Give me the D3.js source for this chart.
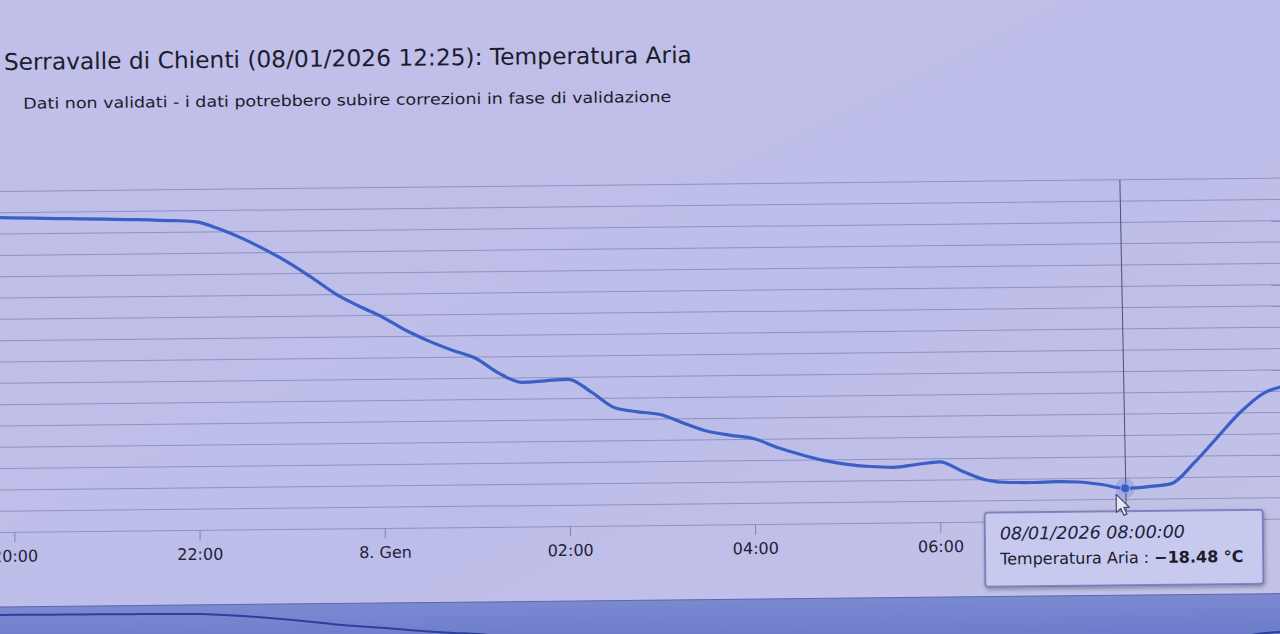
<!DOCTYPE html>
<html><head><meta charset="utf-8">
<script src="https://cdn.jsdelivr.net/npm/d3@7"></script>
<style>html,body{margin:0;padding:0;overflow:hidden;background:#bdbee6}</style>
</head><body>
<svg id="c" width="1280" height="634"></svg>
<script>
// ---------- data ----------
const timeLabels = [
 "2026-01-07 19:45","2026-01-07 20:00","2026-01-07 20:15","2026-01-07 20:30","2026-01-07 20:45",
 "2026-01-07 21:00","2026-01-07 21:15","2026-01-07 21:30","2026-01-07 21:45",
 "2026-01-07 22:00","2026-01-07 22:15","2026-01-07 22:30","2026-01-07 22:45",
 "2026-01-07 23:00","2026-01-07 23:15","2026-01-07 23:30","2026-01-07 23:45",
 "2026-01-08 00:00","2026-01-08 00:15","2026-01-08 00:30","2026-01-08 00:45",
 "2026-01-08 01:00","2026-01-08 01:15","2026-01-08 01:30","2026-01-08 01:45",
 "2026-01-08 02:00","2026-01-08 02:15","2026-01-08 02:30","2026-01-08 02:45",
 "2026-01-08 03:00","2026-01-08 03:15","2026-01-08 03:30","2026-01-08 03:45",
 "2026-01-08 04:00","2026-01-08 04:15","2026-01-08 04:30","2026-01-08 04:45",
 "2026-01-08 05:00","2026-01-08 05:15","2026-01-08 05:30","2026-01-08 05:45",
 "2026-01-08 06:00","2026-01-08 06:15","2026-01-08 06:30","2026-01-08 06:45",
 "2026-01-08 07:00","2026-01-08 07:15","2026-01-08 07:30","2026-01-08 07:45",
 "2026-01-08 08:00","2026-01-08 08:15","2026-01-08 08:30","2026-01-08 08:45",
 "2026-01-08 09:00","2026-01-08 09:15","2026-01-08 09:30","2026-01-08 09:45"
];
const temps = [
 -5.22,-5.24,-5.27,-5.30,-5.32,
 -5.35,-5.38,-5.41,-5.45,
 -5.52,-5.87,-6.33,-6.88,
 -7.50,-8.22,-8.98,-9.56,
 -10.08,-10.71,-11.23,-11.67,
 -12.06,-12.77,-13.21,-13.15,
 -13.09,-13.71,-14.45,-14.65,
 -14.80,-15.22,-15.60,-15.80,
 -15.97,-16.39,-16.73,-17.02,
 -17.22,-17.33,-17.38,-17.26,
 -17.15,-17.61,-18.02,-18.15,
 -18.16,-18.13,-18.16,-18.29,
 -18.48,-18.41,-18.28,-17.31,
 -16.14,-14.98,-14.10,-13.74
];
const tickTimes  = ["2026-01-07 20:00","2026-01-07 22:00","2026-01-08 00:00","2026-01-08 02:00","2026-01-08 04:00","2026-01-08 06:00","2026-01-08 08:00"];
// the 08:00 label sits under the tooltip in the reference, so it is left blank
const tickLabels = ["20:00","22:00","8. Gen","02:00","04:00","06:00",""];
const yGrid = [-20,-19,-18,-17,-16,-15,-14,-13,-12,-11,-10,-9,-8,-7,-6,-5,-4];
const titleText = "Serravalle di Chienti (08/01/2026 12:25): Temperatura Aria";
const subtitleText = "Dati non validati - i dati potrebbero subire correzioni in fase di validazione";
const hoverTime = "2026-01-08 08:00";
const hoverValue = -18.48;
const tooltipDate = "08/01/2026 08:00:00";
const seriesName = "Temperatura Aria";
const unit = "°C";

// ---------- setup ----------
const parse = d3.timeParse("%Y-%m-%d %H:%M");
const data = timeLabels.map((t,i)=>({t:parse(t), v:temps[i]}));
const W = 1280, H = 634;
const svg = d3.select("#c");
const FONT = "'DejaVu Sans', 'Lucida Grande', sans-serif";

const defs = svg.append("defs");
const bg = defs.append("linearGradient").attr("id","bg").attr("x1",0).attr("y1",0).attr("x2",1).attr("y2",1);
bg.append("stop").attr("offset","0%").attr("stop-color","#c0c0ea");
bg.append("stop").attr("offset","60%").attr("stop-color","#bdbde9");
bg.append("stop").attr("offset","100%").attr("stop-color","#c3c3e7");
const nav = defs.append("linearGradient").attr("id","nav").attr("x1",0).attr("y1",0).attr("x2",0).attr("y2",1);
nav.append("stop").attr("offset","0%").attr("stop-color","#7a89d0");
nav.append("stop").attr("offset","100%").attr("stop-color","#6676c8");
defs.append("clipPath").attr("id","plotclip").append("rect").attr("x",-30).attr("y",150).attr("width",1360).attr("height",400);
defs.append("clipPath").attr("id","navclip").append("rect").attr("x",-30).attr("y",607).attr("width",1360).attr("height",60);
const sh = defs.append("filter").attr("id","shadow").attr("x","-10%").attr("y","-10%").attr("width","130%").attr("height","140%");
sh.append("feGaussianBlur").attr("in","SourceAlpha").attr("stdDeviation",2);
sh.append("feOffset").attr("dx",1).attr("dy",2).attr("result","b");
sh.append("feComponentTransfer").append("feFuncA").attr("type","linear").attr("slope",0.35);
const fm = sh.append("feMerge"); fm.append("feMergeNode"); fm.append("feMergeNode").attr("in","SourceGraphic");

svg.append("rect").attr("width",W).attr("height",H).attr("fill","url(#bg)");

const g = svg.append("g").attr("transform","rotate(-0.6,0,360)");

const x = d3.scaleTime()
  .domain([parse("2026-01-07 20:00"), parse("2026-01-08 08:00")])
  .range([12.5, 12.5 + 92.6*12]);
const y = d3.scaleLinear().domain([-20,-4]).range([532.5,191.5]);

// titles
g.append("text").attr("x",7).attr("y",70).attr("font-family",FONT).attr("font-size",23)
  .attr("fill","#1c1c2c").text(titleText)
  .each(function(){ const L=this.getComputedTextLength(); if (Math.abs(L-688)>4) d3.select(this).attr("textLength",688).attr("lengthAdjust","spacingAndGlyphs"); });
g.append("text").attr("x",26).attr("y",109).attr("font-family",FONT).attr("font-size",15)
  .attr("fill","#1c1c2c").text(subtitleText)
  .each(function(){ const L=this.getComputedTextLength(); if (Math.abs(L-648)>4) d3.select(this).attr("textLength",648).attr("lengthAdjust","spacingAndGlyphs"); });

// grid
g.append("g").selectAll("line").data(yGrid).join("line")
  .attr("x1",-30).attr("x2",1320).attr("y1",d=>y(d)).attr("y2",d=>y(d))
  .attr("stroke","#7f82b4").attr("stroke-width",1).attr("opacity",0.75);

// x axis
const xAxis = d3.axisBottom(x)
  .tickValues(tickTimes.map(parse))
  .tickFormat((d,i)=>tickLabels[i])
  .tickSizeInner(10).tickSizeOuter(0).tickPadding(8);
const ax = g.append("g").attr("transform",`translate(0,${y(-20)})`).call(xAxis);
ax.select(".domain").remove();
ax.selectAll(".tick line").attr("stroke","#7f82b4");
ax.selectAll(".tick text").attr("font-family",FONT).attr("font-size",16).attr("fill","#22223a");

// crosshair
g.append("line").attr("x1",x(parse(hoverTime))-2).attr("x2",x(parse(hoverTime))+1)
  .attr("y1",y(-4)).attr("y2",y(-20)).attr("stroke","#50506a").attr("stroke-width",1);

// series line
const line = d3.line().x(d=>x(d.t)).y(d=>y(d.v)).curve(d3.curveMonotoneX);
g.append("path").datum(data).attr("clip-path","url(#plotclip)")
  .attr("d",line).attr("fill","none").attr("stroke","#3a5fc6").attr("stroke-width",3.2)
  .attr("stroke-linejoin","round").attr("stroke-linecap","round");

// hover marker
const hx = x(parse(hoverTime)), hy = y(hoverValue);
g.append("circle").attr("cx",hx).attr("cy",hy).attr("r",10).attr("fill","#3a5fc6").attr("opacity",0.22);
g.append("circle").attr("cx",hx).attr("cy",hy).attr("r",4.5).attr("fill","#3a5fc6").attr("stroke","#8ea4e6").attr("stroke-width",1);

// navigator
g.append("rect").attr("x",-30).attr("y",607).attr("width",1360).attr("height",60).attr("fill","url(#nav)");
g.append("line").attr("x1",-30).attr("x2",1330).attr("y1",607).attr("y2",607).attr("stroke","#5d68ad").attr("stroke-width",1);
const ny = d3.scaleLinear().domain([-18.5,-4.5]).range([661.8,612.4]);
const navLine = d3.line().x(d=>x(d.t)).y(d=>ny(d.v)).curve(d3.curveMonotoneX);
g.append("path").datum(data).attr("clip-path","url(#navclip)").attr("d",navLine)
  .attr("fill","none").attr("stroke","#2c3f9c").attr("stroke-width",2);

// tooltip
const tt = g.append("g").attr("transform","translate(983,523)");
tt.append("rect").attr("width",278).attr("height",74).attr("rx",3)
  .attr("fill","#c8caef").attr("fill-opacity",0.97).attr("stroke","#6670b0").attr("stroke-width",1.5)
  .attr("filter","url(#shadow)");
tt.append("text").attr("x",15).attr("y",27).attr("font-family",FONT).attr("font-size",17.5)
  .attr("font-style","italic").attr("fill","#22223a").text(tooltipDate);
const t2 = tt.append("text").attr("x",15).attr("y",52).attr("font-family",FONT).attr("font-size",16).attr("fill","#1c1c2c");
t2.append("tspan").text(seriesName + " : ");
t2.append("tspan").attr("font-weight","bold").text(d3.format(".2f")(hoverValue).replace("-","\u2212") + " " + unit);

// mouse cursor
g.append("path")
  .attr("transform",`translate(${hx-9},${hy+6})`)
  .attr("d","M0,0 L0,18 L4.5,14 L7.5,21 L10.5,19.8 L7.6,13 L13,13 Z")
  .attr("fill","#e6e6f4").attr("stroke","#4a4a66").attr("stroke-width",1.2).attr("stroke-linejoin","round");
</script>
</body></html>
